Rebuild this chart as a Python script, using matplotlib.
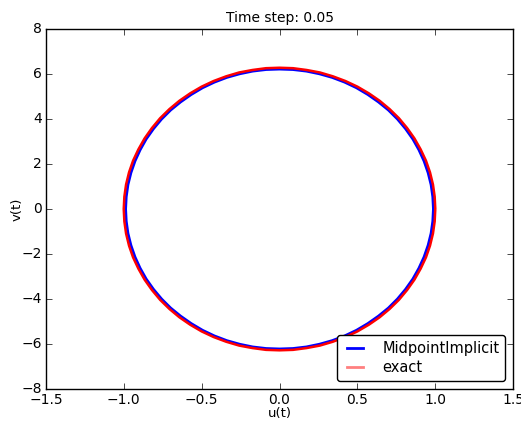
import matplotlib.pyplot as plt
import matplotlib.lines as mlines

plt.style.use('classic')
plt.rcParams['font.size'] = 10

# exact solution (u, v) read around the closed orbit
u_exact = [1.000, 0.996, 0.985, 0.966, 0.940, 0.906, 0.866, 0.819, 0.766, 0.707,
           0.643, 0.574, 0.500, 0.423, 0.342, 0.259, 0.174, 0.087, 0.000,
           -0.087, -0.174, -0.259, -0.342, -0.423, -0.500, -0.574, -0.643, -0.707,
           -0.766, -0.819, -0.866, -0.906, -0.940, -0.966, -0.985, -0.996, -1.000,
           -0.996, -0.985, -0.966, -0.940, -0.906, -0.866, -0.819, -0.766, -0.707,
           -0.643, -0.574, -0.500, -0.423, -0.342, -0.259, -0.174, -0.087, 0.000,
           0.087, 0.174, 0.259, 0.342, 0.423, 0.500, 0.574, 0.643, 0.707,
           0.766, 0.819, 0.866, 0.906, 0.940, 0.966, 0.985, 0.996, 1.000]
v_exact = [0.00, 0.55, 1.09, 1.63, 2.15, 2.65, 3.14, 3.60, 4.04, 4.44,
           4.81, 5.14, 5.44, 5.69, 5.90, 6.07, 6.18, 6.26, 6.28,
           6.26, 6.18, 6.07, 5.90, 5.69, 5.44, 5.14, 4.81, 4.44,
           4.04, 3.60, 3.14, 2.65, 2.15, 1.63, 1.09, 0.55, 0.00,
           -0.55, -1.09, -1.63, -2.15, -2.65, -3.14, -3.60, -4.04, -4.44,
           -4.81, -5.14, -5.44, -5.69, -5.90, -6.07, -6.18, -6.26, -6.28,
           -6.26, -6.18, -6.07, -5.90, -5.69, -5.44, -5.14, -4.81, -4.44,
           -4.04, -3.60, -3.14, -2.65, -2.15, -1.63, -1.09, -0.55, 0.00]

# MidpointImplicit solution
u_mid = [0.988, 0.984, 0.973, 0.954, 0.928, 0.895, 0.856, 0.809, 0.757, 0.699,
         0.635, 0.567, 0.494, 0.418, 0.338, 0.256, 0.172, 0.086, 0.000,
         -0.086, -0.172, -0.256, -0.338, -0.418, -0.494, -0.567, -0.635, -0.699,
         -0.757, -0.809, -0.856, -0.895, -0.928, -0.954, -0.973, -0.984, -0.988,
         -0.984, -0.973, -0.954, -0.928, -0.895, -0.856, -0.809, -0.757, -0.699,
         -0.635, -0.567, -0.494, -0.418, -0.338, -0.256, -0.172, -0.086, 0.000,
         0.086, 0.172, 0.256, 0.338, 0.418, 0.494, 0.567, 0.635, 0.699,
         0.757, 0.809, 0.856, 0.895, 0.928, 0.954, 0.973, 0.984, 0.988]
v_mid = [0.00, 0.54, 1.08, 1.61, 2.13, 2.63, 3.11, 3.57, 4.00, 4.40,
         4.76, 5.09, 5.39, 5.64, 5.85, 6.01, 6.13, 6.20, 6.22,
         6.20, 6.13, 6.01, 5.85, 5.64, 5.39, 5.09, 4.76, 4.40,
         4.00, 3.57, 3.11, 2.63, 2.13, 1.61, 1.08, 0.54, 0.00,
         -0.54, -1.08, -1.61, -2.13, -2.63, -3.11, -3.57, -4.00, -4.40,
         -4.76, -5.09, -5.39, -5.64, -5.85, -6.01, -6.13, -6.20, -6.22,
         -6.20, -6.13, -6.01, -5.85, -5.64, -5.39, -5.09, -4.76, -4.40,
         -4.00, -3.57, -3.11, -2.63, -2.13, -1.61, -1.08, -0.54, 0.00]

fig = plt.figure(figsize=(5.21, 4.21), dpi=100, facecolor='white')
ax = fig.add_axes([0.088, 0.076, 0.897, 0.855])
ax.plot(u_mid, v_mid, color='blue', lw=2, solid_joinstyle='round')
ax.plot(u_exact, v_exact, color='red', lw=1.8, solid_joinstyle='round',
        solid_capstyle='butt')
ax.set_xlim(-1.5, 1.5)
ax.set_ylim(-8, 8)
ax.tick_params(axis='x', pad=3)
ax.tick_params(axis='y', pad=3)
ax.set_xlabel('u(t)', fontsize=9.5, labelpad=0)
ax.set_ylabel('v(t)', fontsize=9.5, labelpad=-2)
ax.set_title('Time step: 0.05', fontsize=10)

h1 = mlines.Line2D([], [], color='blue', lw=2)
h2 = mlines.Line2D([], [], color='red', lw=2, alpha=0.5)
leg = ax.legend([h1, h2], ['MidpointImplicit', 'exact'], loc='lower right',
                fancybox=True, borderaxespad=0.55, handlelength=1.7,
                handletextpad=1.0, fontsize=10.5, labelspacing=0.3)
leg.get_frame().set_linewidth(1)

fig.savefig('out.png', dpi=100, facecolor='white')
